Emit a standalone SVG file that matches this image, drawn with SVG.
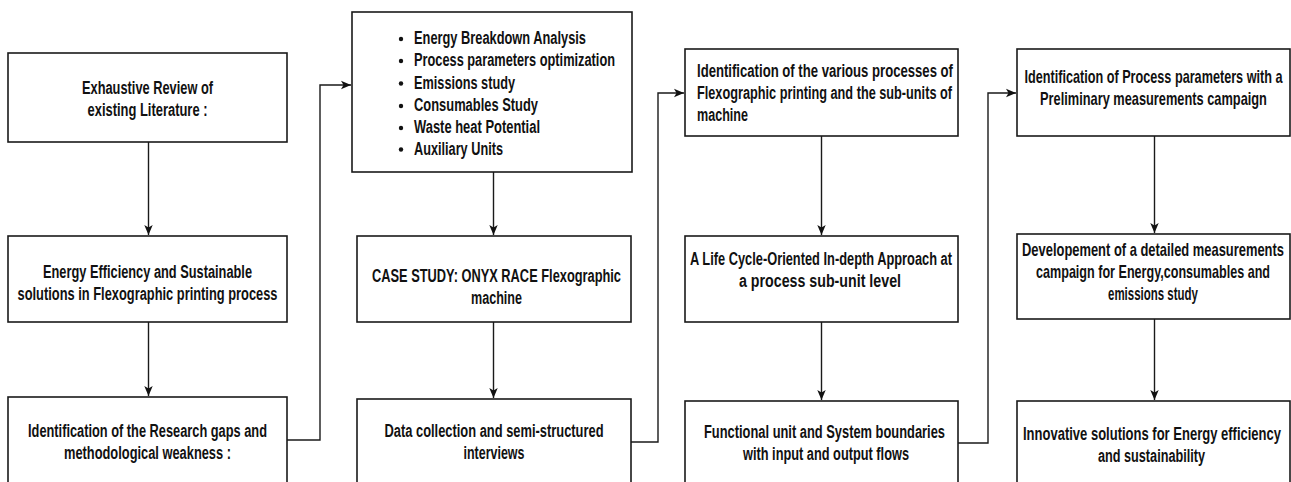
<svg xmlns="http://www.w3.org/2000/svg" width="1291" height="482" viewBox="0 0 1291 482">
<style>
rect.box{fill:#fff;stroke:#1a1a1a;stroke-width:1.6}
text{font-family:"Liberation Sans",Arial,sans-serif;font-weight:bold;font-size:18px;fill:#111}
text.c{text-anchor:middle}
.conn path{fill:none;stroke:#1a1a1a;stroke-width:1.4}
</style>
<defs>
<marker id="arr" markerWidth="11" markerHeight="10" refX="10" refY="5" orient="auto" markerUnits="userSpaceOnUse">
<path d="M0,0.8 L10,5 L0,9.2 L2.5,5 z" fill="#111"/>
</marker>
</defs>
<rect width="1291" height="482" fill="#fff"/>
<g class="conn">
<path d="M148.5,142 L148.5,235" marker-end="url(#arr)"/>
<path d="M148.5,322 L148.5,396" marker-end="url(#arr)"/>
<path d="M287,440 L320,440 L320,85 L351,85" marker-end="url(#arr)"/>
<path d="M493.5,172 L493.5,235" marker-end="url(#arr)"/>
<path d="M493.5,322 L493.5,398" marker-end="url(#arr)"/>
<path d="M631,442 L658,442 L658,93 L684,93" marker-end="url(#arr)"/>
<path d="M821.5,136 L821.5,235" marker-end="url(#arr)"/>
<path d="M821.5,322 L821.5,400" marker-end="url(#arr)"/>
<path d="M958,443 L988,443 L988,93 L1016,93" marker-end="url(#arr)"/>
<path d="M1154.5,136 L1154.5,233" marker-end="url(#arr)"/>
<path d="M1154.5,319 L1154.5,400" marker-end="url(#arr)"/>
</g>
<g id="n1"><rect class="box" x="8" y="53" width="279" height="89"/>
<text class="c" x="147.5" y="94" textLength="131" lengthAdjust="spacingAndGlyphs">Exhaustive Review of</text>
<text class="c" x="147.5" y="116" textLength="120" lengthAdjust="spacingAndGlyphs">existing Literature :</text></g>
<g id="n2"><rect class="box" x="8" y="236" width="279" height="86"/>
<text class="c" x="147.5" y="278" textLength="209" lengthAdjust="spacingAndGlyphs">Energy Efficiency and Sustainable</text>
<text class="c" x="147.5" y="300" textLength="260" lengthAdjust="spacingAndGlyphs">solutions in Flexographic printing process</text></g>
<g id="n3"><rect class="box" x="8" y="397" width="279" height="100"/>
<text class="c" x="147.5" y="437" textLength="239" lengthAdjust="spacingAndGlyphs">Identification of the Research gaps and</text>
<text class="c" x="147.5" y="459" textLength="167" lengthAdjust="spacingAndGlyphs">methodological weakness :</text></g>
<g id="n4"><rect class="box" x="352" y="12" width="280" height="160"/>
<g fill="#111"><circle cx="401" cy="39" r="2.2"/><circle cx="401" cy="61" r="2.2"/><circle cx="401" cy="83.5" r="2.2"/><circle cx="401" cy="106" r="2.2"/><circle cx="401" cy="128" r="2.2"/><circle cx="401" cy="149.5" r="2.2"/></g>
<text x="414" y="44" textLength="172" lengthAdjust="spacingAndGlyphs">Energy Breakdown Analysis</text>
<text x="414" y="66" textLength="201" lengthAdjust="spacingAndGlyphs">Process parameters optimization</text>
<text x="414" y="88.5" textLength="101" lengthAdjust="spacingAndGlyphs">Emissions study</text>
<text x="414" y="111" textLength="124" lengthAdjust="spacingAndGlyphs">Consumables Study</text>
<text x="414" y="133" textLength="126" lengthAdjust="spacingAndGlyphs">Waste heat Potential</text>
<text x="414" y="154.5" textLength="89" lengthAdjust="spacingAndGlyphs">Auxiliary Units</text></g>
<g id="n5"><rect class="box" x="357" y="236" width="274" height="86"/>
<text class="c" x="496.5" y="282" textLength="249" lengthAdjust="spacingAndGlyphs">CASE STUDY: ONYX RACE Flexographic</text>
<text class="c" x="496.5" y="304" textLength="51" lengthAdjust="spacingAndGlyphs">machine</text></g>
<g id="n6"><rect class="box" x="357" y="399" width="274" height="100"/>
<text class="c" x="494" y="437" textLength="219" lengthAdjust="spacingAndGlyphs">Data collection and semi-structured</text>
<text class="c" x="494" y="459" textLength="61" lengthAdjust="spacingAndGlyphs">interviews</text></g>
<g id="n7"><rect class="box" x="685" y="49" width="273" height="87"/>
<text x="697" y="77" textLength="256" lengthAdjust="spacingAndGlyphs">Identification of the various processes of</text>
<text x="697" y="99" textLength="255" lengthAdjust="spacingAndGlyphs">Flexographic printing and the sub-units of</text>
<text x="697" y="121" textLength="51" lengthAdjust="spacingAndGlyphs">machine</text></g>
<g id="n8"><rect class="box" x="685" y="236" width="273" height="86"/>
<text class="c" x="821" y="265" textLength="262" lengthAdjust="spacingAndGlyphs">A Life Cycle-Oriented In-depth Approach at</text>
<text class="c" x="820" y="287" textLength="162" lengthAdjust="spacingAndGlyphs">a process sub-unit level</text></g>
<g id="n9"><rect class="box" x="685" y="401" width="273" height="100"/>
<text class="c" x="824.5" y="438" textLength="241" lengthAdjust="spacingAndGlyphs">Functional unit and System boundaries</text>
<text class="c" x="826" y="460" textLength="166" lengthAdjust="spacingAndGlyphs">with input and output flows</text></g>
<g id="n10"><rect class="box" x="1017" y="49" width="273" height="87"/>
<text class="c" transform="translate(1153.5,83) scale(0.65,1)" x="0" y="0" textLength="397" lengthAdjust="spacingAndGlyphs">Identification of Process parameters with a</text>
<text class="c" transform="translate(1153.5,105) scale(0.65,1)" x="0" y="0" textLength="349" lengthAdjust="spacingAndGlyphs">Preliminary measurements campaign</text></g>
<g id="n11"><rect class="box" x="1017" y="234" width="273" height="85"/>
<text class="c" transform="translate(1153,256) scale(0.65,1)" x="0" y="0" textLength="403" lengthAdjust="spacingAndGlyphs">Developement of a detailed measurements</text>
<text class="c" transform="translate(1153,278) scale(0.65,1)" x="0" y="0" textLength="360" lengthAdjust="spacingAndGlyphs">campaign for Energy,consumables and</text>
<text class="c" x="1153" y="300" textLength="90" lengthAdjust="spacingAndGlyphs">emissions study</text></g>
<g id="n12"><rect class="box" x="1017" y="401" width="273" height="100"/>
<text class="c" transform="translate(1152,440) scale(0.65,1)" x="0" y="0" textLength="397" lengthAdjust="spacingAndGlyphs">Innovative solutions for Energy efficiency</text>
<text class="c" x="1151.5" y="462" textLength="107" lengthAdjust="spacingAndGlyphs">and sustainability</text></g>
</svg>
